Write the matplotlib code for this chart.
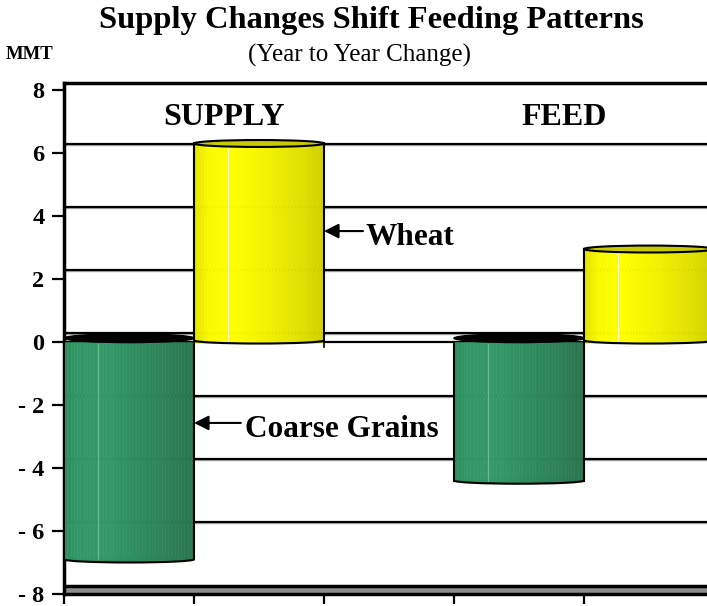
import numpy as np
import matplotlib
matplotlib.use("Agg")
import matplotlib.pyplot as plt
from matplotlib.patches import Ellipse, Arc

# ---------------- data ----------------
groups = ["SUPPLY", "FEED"]
wheat = [6.3, 2.95]
coarse = [-6.9, -4.4]
yticks = [-8, -6, -4, -2, 0, 2, 4, 6, 8]
ytick_labels = ["- 8", "- 6", "- 4", "- 2", "0", "2", "4", "6", "8"]
series_names = ["Coarse Grains", "Wheat"]

plt.rcParams["font.family"] = ["Liberation Serif", "DejaVu Serif"]

fig = plt.figure(figsize=(7.07, 6.06), dpi=100)
ax = fig.add_axes([64 / 707, 12 / 606, 643 / 707, 511 / 606])
ax.set_xlim(0, 643 / 130)
ax.set_ylim(-8, 8.22)

# back-wall gridlines (3D offset)
off = 0.28
for v in [-6, -4, -2, 0, 2, 4, 6]:
    ax.axhline(v + off - 0.04, color="#aaaaaa", lw=1.0, zorder=1)
    ax.axhline(v + off, color="black", lw=1.6, zorder=1)
# front zero line
ax.axhline(0, color="black", lw=1.6, zorder=1)
# floor
ax.axhspan(-8, -7.75, color="#8c8c8c", zorder=1, lw=0)
ax.axhline(-7.75, color="black", lw=2.5, zorder=1)

# small ticks on the zero line
for xt in range(0, 5):
    ax.plot([xt, xt], [0, -0.17], color="black", lw=1.2, zorder=1)

def shade(stops, n):
    t = (np.arange(n) + 0.5) / n
    pos = [s[0] for s in stops]
    cols = np.array([matplotlib.colors.to_rgb(s[1]) for s in stops])
    return [tuple(np.interp(tt, pos, cols[:, k]) for k in range(3)) for tt in t]

yellow_stops = [(0.0, "#e2e200"), (0.06, "#eeee00"), (0.12, "#fbfb00"),
                (0.3, "#ffff00"), (0.55, "#f2f200"), (0.8, "#e2e200"), (1.0, "#d0d000")]
green_stops = [(0.0, "#2d8c5d"), (0.08, "#319663"), (0.3, "#349a69"),
               (0.55, "#2f8d5f"), (0.8, "#2d8058"), (1.0, "#297550")]

def cylinder(xl, val, stops, cap_color, bottom_color, highlight):
    n = 40
    cols = shade(stops, n)
    w = 1.0 / n
    xs = xl + w * np.arange(n)
    ax.bar(xs, [val] * n, width=w, bottom=0, align="edge", color=cols,
           edgecolor=cols, linewidth=0.4, zorder=3)
    # highlight line
    ax.plot([xl + 0.26, xl + 0.26], [0.05 if val > 0 else -0.05, val], color=highlight,
            lw=0.8, alpha=0.8, zorder=3.5)
    xc = xl + 0.5
    # bottom end
    ax.add_patch(Ellipse((xc, val if val < 0 else 0.05), 1.0, 0.2,
                         facecolor=bottom_color, edgecolor="none", zorder=2.5))
    ax.add_patch(Arc((xc, val if val < 0 else 0.05), 1.0, 0.2, theta1=180, theta2=360,
                     color="black", lw=1.5, zorder=4))
    # sides
    ax.plot([xl, xl], [0, val], color="black", lw=1.5, zorder=4)
    ax.plot([xl + 1, xl + 1], [0, val], color="black", lw=1.5, zorder=4)
    # top cap
    if val > 0:
        ax.add_patch(Ellipse((xc, val), 1.0, 0.22, facecolor=cap_color,
                             edgecolor="black", lw=1.5, zorder=5))
    else:
        ax.add_patch(Ellipse((xc, 0.12), 1.0, 0.28, facecolor="black",
                             edgecolor="black", lw=1.0, zorder=5))

for g in range(len(groups)):
    base = g * 3
    cylinder(base + 0, coarse[g], green_stops, "black", "#2f8a5e", "#7cc79f")
    cylinder(base + 1, wheat[g], yellow_stops, "#c9c900", "#e6e600", "white")

# group labels
lab_x = [1.23, 3.85]
for g, name in enumerate(groups):
    ax.text(lab_x[g], 7.14, name, ha="center", va="center", fontsize=23,
            fontweight="bold", zorder=6)

# annotations
ax.annotate("", xy=(2.0, 3.52), xytext=(2.3, 3.52),
            arrowprops=dict(arrowstyle="-|>", color="black", lw=1.5,
                            mutation_scale=22, shrinkA=0, shrinkB=0), zorder=6)
ax.text(2.32, 3.08, series_names[1], ha="left", va="baseline", fontsize=22.5,
        fontweight="bold", zorder=6)
ax.annotate("", xy=(1.0, -2.57), xytext=(1.36, -2.57),
            arrowprops=dict(arrowstyle="-|>", color="black", lw=1.5,
                            mutation_scale=22, shrinkA=0, shrinkB=0), zorder=6)
ax.text(1.39, -3.02, series_names[0], ha="left", va="baseline", fontsize=22.5,
        fontweight="bold", zorder=6)

# axes styling
ax.set_yticks(yticks)
ax.set_yticklabels(ytick_labels, fontsize=17.5, fontweight="bold")
ax.set_xticks([0, 1, 2, 3, 4])
ax.set_xticklabels([])
ax.tick_params(axis="y", direction="out", length=9, width=1.6, pad=5)
ax.tick_params(axis="x", direction="out", length=7, width=1.6)
for s in ["left", "top", "bottom"]:
    ax.spines[s].set_linewidth(2.5)
ax.spines["right"].set_visible(False)

# titles
fig.text(371 / 707, 1 - 28 / 606, "Supply Changes Shift Feeding Patterns",
         ha="center", va="baseline", fontsize=23.4, fontweight="bold")
fig.text(360 / 707, 1 - 62 / 606, "(Year to Year Change)",
         ha="center", va="baseline", fontsize=18)
fig.text(30 / 707, 1 - 59 / 606, "MMT", ha="center", va="baseline",
         fontsize=13.5, fontweight="bold")

fig.savefig("out.png", dpi=100)
